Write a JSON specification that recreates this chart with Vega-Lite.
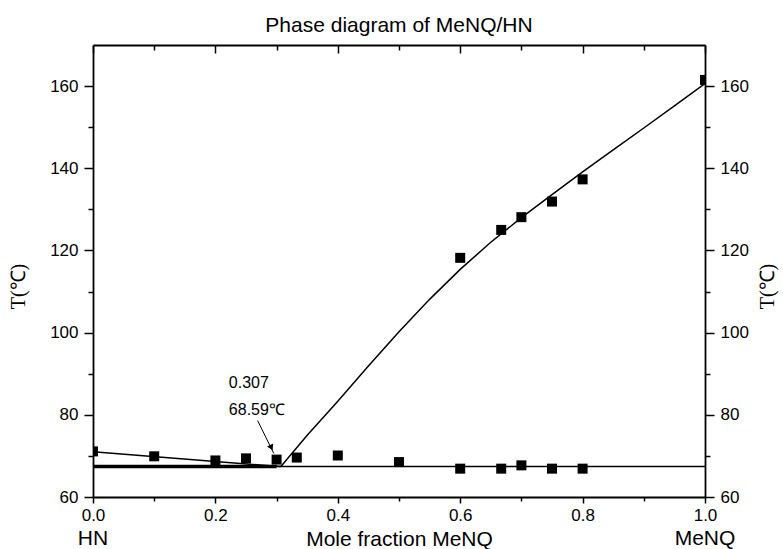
{
  "$schema": "https://vega.github.io/schema/vega-lite/v6.json",
  "autosize": "none",
  "width": 612,
  "height": 452,
  "padding": {"left": 93, "top": 45, "right": 78, "bottom": 52},
  "background": "white",
  "title": {
    "text": "Phase diagram of MeNQ/HN",
    "font": "Liberation Sans",
    "fontSize": 21,
    "fontWeight": "normal",
    "color": "black",
    "anchor": "middle",
    "baseline": "bottom",
    "offset": 12,
    "dy": 25
  },
  "datasets": {
    "points": [
      {"x": 0.0, "T": 71.1},
      {"x": 0.1, "T": 69.9},
      {"x": 0.2, "T": 68.9},
      {"x": 0.25, "T": 69.4},
      {"x": 0.3, "T": 69.1},
      {"x": 0.333, "T": 69.6},
      {"x": 0.4, "T": 70.1},
      {"x": 0.5, "T": 68.5},
      {"x": 0.6, "T": 66.9},
      {"x": 0.667, "T": 66.9},
      {"x": 0.7, "T": 67.7},
      {"x": 0.75, "T": 66.9},
      {"x": 0.8, "T": 66.9},
      {"x": 0.6, "T": 118.2},
      {"x": 0.667, "T": 125.0},
      {"x": 0.7, "T": 128.1},
      {"x": 0.75, "T": 131.9},
      {"x": 0.8, "T": 137.3},
      {"x": 1.0, "T": 161.5}
    ],
    "curves": [
      {"curve": "eutectic", "x": 0.0, "T": 67.4},
      {"curve": "eutectic", "x": 1.0, "T": 67.4},
      {"curve": "eutectic_bold", "x": 0.0, "T": 67.4},
      {"curve": "eutectic_bold", "x": 0.3, "T": 67.4},
      {"curve": "left", "x": 0.0, "T": 71.0},
      {"curve": "left", "x": 0.307, "T": 67.4},
      {"curve": "right", "x": 0.307, "T": 67.4},
      {"curve": "right", "x": 0.35, "T": 75.0},
      {"curve": "right", "x": 0.4, "T": 83.3},
      {"curve": "right", "x": 0.45, "T": 91.9},
      {"curve": "right", "x": 0.5, "T": 100.2},
      {"curve": "right", "x": 0.55, "T": 108.1},
      {"curve": "right", "x": 0.6, "T": 115.4},
      {"curve": "right", "x": 0.65, "T": 122.0},
      {"curve": "right", "x": 0.7, "T": 128.0},
      {"curve": "right", "x": 0.75, "T": 133.6},
      {"curve": "right", "x": 0.8, "T": 139.1},
      {"curve": "right", "x": 0.85, "T": 144.5},
      {"curve": "right", "x": 0.9, "T": 149.8},
      {"curve": "right", "x": 0.95, "T": 155.2},
      {"curve": "right", "x": 1.0, "T": 160.6}
    ],
    "notes": [
      {"label": "0.307", "x": 0.222, "T": 86.6},
      {"label": "68.59℃", "x": 0.222, "T": 80.0}
    ],
    "arrow": [
      {"x": 0.269, "T": 78.6, "x2": 0.2954, "T2": 70.6, "hx": 0.2915, "hT": 72.0}
    ],
    "ends": [
      {"label": "HN", "x": 0.0},
      {"label": "MeNQ", "x": 1.0}
    ]
  },
  "layer": [
    {
      "data": {"name": "curves"},
      "transform": [{"filter": "datum.curve === 'eutectic'"}],
      "mark": {"type": "line", "color": "black", "strokeWidth": 1.5, "clip": true},
      "encoding": {
        "x": {
          "field": "x", "type": "quantitative",
          "scale": {"domain": [0, 1], "nice": false, "zero": false},
          "axis": {
            "orient": "top",
            "values": [0, 0.1, 0.2, 0.3, 0.4, 0.5, 0.6, 0.7, 0.8, 0.9, 1.0],
            "labels": false,
            "title": null,
            "domainColor": "black",
            "domainWidth": 1.8,
            "tickColor": "black",
            "tickWidth": 1.5,
            "tickSize": {"condition": {"test": "round(datum.value * 10) % 2 === 0", "value": -8}, "value": -5}
          }
        },
        "y": {
          "field": "T", "type": "quantitative",
          "scale": {"domain": [60, 170], "nice": false, "zero": false},
          "axis": {
            "orient": "right",
            "values": [60, 70, 80, 90, 100, 110, 120, 130, 140, 150, 160],
            "labelExpr": "datum.value % 20 === 0 ? datum.label : ''",
            "labelFont": "Liberation Sans",
            "labelFontSize": 17,
            "labelColor": "black",
            "labelPadding": 6,
            "domainColor": "black",
            "domainWidth": 1.8,
            "tickColor": "black",
            "tickWidth": 1.5,
            "tickSize": {"condition": {"test": "datum.value % 20 === 0", "value": 9}, "value": 5},
            "title": "T(℃)",
            "titleFont": "Liberation Serif",
            "titleFontSize": 20,
            "titleFontWeight": "normal",
            "titleColor": "black",
            "titleAngle": 270,
            "titleAlign": "center",
            "titleBaseline": "middle",
            "titleX": 62,
            "titleY": 241
          }
        }
      }
    },
    {
      "data": {"name": "curves"},
      "transform": [{"filter": "datum.curve === 'eutectic_bold'"}],
      "mark": {"type": "line", "color": "black", "strokeWidth": 3.5, "clip": true},
      "encoding": {
        "x": {"field": "x", "type": "quantitative", "axis": null},
        "y": {"field": "T", "type": "quantitative", "axis": null}
      }
    },
    {
      "data": {"name": "curves"},
      "transform": [{"filter": "datum.curve === 'left' || datum.curve === 'right'"}],
      "mark": {"type": "line", "color": "black", "strokeWidth": 1.5, "clip": true},
      "encoding": {
        "x": {"field": "x", "type": "quantitative", "axis": null},
        "y": {"field": "T", "type": "quantitative", "axis": null},
        "detail": {"field": "curve"}
      }
    },
    {
      "data": {"name": "points"},
      "mark": {"type": "point", "shape": "square", "filled": true, "color": "black", "opacity": 1, "size": 100, "clip": true},
      "encoding": {
        "x": {
          "field": "x", "type": "quantitative",
          "axis": {
            "orient": "bottom",
            "values": [0, 0.1, 0.2, 0.3, 0.4, 0.5, 0.6, 0.7, 0.8, 0.9, 1.0],
            "format": ".1f",
            "labelExpr": "round(datum.value * 10) % 2 === 0 ? datum.label : ''",
            "labelFont": "Liberation Sans",
            "labelFontSize": 17,
            "labelColor": "black",
            "labelPadding": 4,
            "labelFlush": false,
            "domainColor": "black",
            "domainWidth": 1.8,
            "tickColor": "black",
            "tickWidth": 1.5,
            "tickSize": {"condition": {"test": "round(datum.value * 10) % 2 === 0", "value": 6}, "value": 4},
            "title": "Mole fraction MeNQ",
            "titleFont": "Liberation Sans",
            "titleFontSize": 21,
            "titleFontWeight": "normal",
            "titleColor": "black",
            "titleBaseline": "alphabetic",
            "titleY": 48
          }
        },
        "y": {
          "field": "T", "type": "quantitative",
          "axis": {
            "orient": "left",
            "values": [60, 70, 80, 90, 100, 110, 120, 130, 140, 150, 160],
            "labelExpr": "datum.value % 20 === 0 ? datum.label : ''",
            "labelFont": "Liberation Sans",
            "labelFontSize": 17,
            "labelColor": "black",
            "labelPadding": 6,
            "domainColor": "black",
            "domainWidth": 1.8,
            "tickColor": "black",
            "tickWidth": 1.5,
            "tickSize": {"condition": {"test": "datum.value % 20 === 0", "value": 9}, "value": 5},
            "title": "T(℃)",
            "titleFont": "Liberation Serif",
            "titleFontSize": 20,
            "titleFontWeight": "normal",
            "titleColor": "black",
            "titleAngle": 270,
            "titleAlign": "center",
            "titleBaseline": "middle",
            "titleX": -75,
            "titleY": 241
          }
        }
      }
    },
    {
      "data": {"name": "notes"},
      "mark": {"type": "text", "align": "left", "baseline": "alphabetic", "font": "Liberation Sans", "fontSize": 16, "color": "black"},
      "encoding": {
        "x": {"field": "x", "type": "quantitative", "axis": null},
        "y": {"field": "T", "type": "quantitative", "axis": null},
        "text": {"field": "label"}
      }
    },
    {
      "data": {"name": "arrow"},
      "mark": {"type": "rule", "color": "black", "strokeWidth": 1},
      "encoding": {
        "x": {"field": "x", "type": "quantitative", "axis": null},
        "y": {"field": "T", "type": "quantitative", "axis": null},
        "x2": {"field": "x2"},
        "y2": {"field": "T2"}
      }
    },
    {
      "data": {"name": "arrow"},
      "mark": {"type": "point", "shape": "triangle-down", "filled": true, "color": "black", "opacity": 1, "size": 45, "angle": -26},
      "encoding": {
        "x": {"field": "hx", "type": "quantitative", "axis": null},
        "y": {"field": "hT", "type": "quantitative", "axis": null}
      }
    },
    {
      "data": {"name": "ends"},
      "mark": {"type": "text", "align": "center", "baseline": "alphabetic", "font": "Liberation Sans", "fontSize": 21, "color": "black", "dy": 48},
      "encoding": {
        "x": {"field": "x", "type": "quantitative", "axis": null},
        "y": {"datum": 60, "type": "quantitative", "axis": null},
        "text": {"field": "label"}
      }
    }
  ],
  "resolve": {"axis": {"x": "independent", "y": "independent"}},
  "config": {
    "view": {"stroke": null},
    "axis": {"grid": false}
  }
}
